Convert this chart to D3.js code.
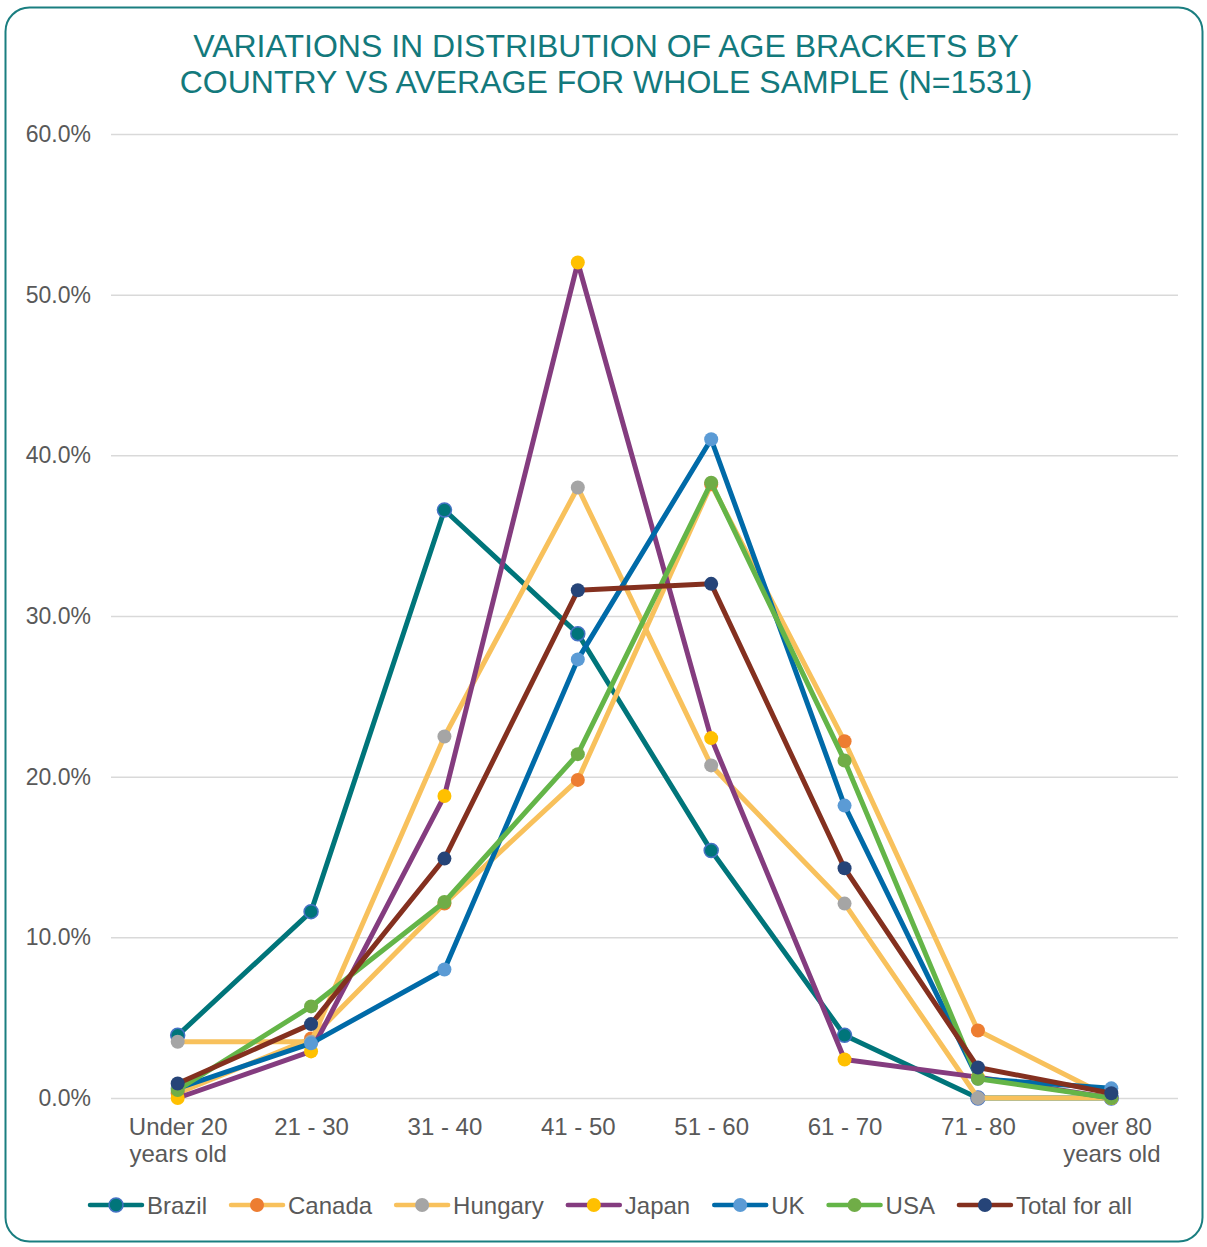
<!DOCTYPE html>
<html>
<head>
<meta charset="utf-8">
<script src="https://cdn.jsdelivr.net/npm/d3@7"></script>
<style>
  html, body { margin: 0; padding: 0; background: #ffffff; }
  svg { display: block; font-family: "Liberation Sans", Arial, sans-serif; }
</style>
</head>
<body>
<svg id="chart" width="1207" height="1247"></svg>
<script>
// Age brackets (x categories), each label split into display lines
const categories = ["Under 20 years old", "21 - 30", "31 - 40", "41 - 50", "51 - 60", "61 - 70", "71 - 80", "over 80 years old"];
const categoryLines = [["Under 20", "years old"], ["21 - 30"], ["31 - 40"], ["41 - 50"], ["51 - 60"], ["61 - 70"], ["71 - 80"], ["over 80", "years old"]];

// Share of respondents per age bracket (%)
const brazil  = [3.9, 11.6, 36.6, 28.9, 15.4, 3.9, 0.0, 0.0];
const canada  = [0.3, 3.7, 12.1, 19.8, 38.2, 22.2, 4.2, 0.0];
const hungary = [3.5, 3.5, 22.5, 38.0, 20.7, 12.1, 0.0, 0.0];
const japan   = [0.0, 2.9, 18.8, 52.0, 22.4, 2.4, 1.3, 0.0];
const uk      = [0.6, 3.4, 8.0, 27.3, 41.0, 18.2, 1.2, 0.6];
const usa     = [0.5, 5.7, 12.2, 21.4, 38.3, 21.0, 1.2, 0.0];
const total   = [0.9, 4.6, 14.9, 31.6, 32.0, 14.3, 1.9, 0.3];

const seriesNames = ["Brazil", "Canada", "Hungary", "Japan", "UK", "USA", "Total for all"];
const seriesValues = [brazil, canada, hungary, japan, uk, usa, total];

const yTicks = [0, 10, 20, 30, 40, 50, 60];

// Styling per series: line colour, marker fill, marker outline
const styles = [
  { line: "#00757A", fill: "#00757A", stroke: "#4472C4" },
  { line: "#F8C15C", fill: "#ED7D31", stroke: "none" },
  { line: "#F8C15C", fill: "#A5A5A5", stroke: "none" },
  { line: "#843C7F", fill: "#FFC000", stroke: "none" },
  { line: "#006AA8", fill: "#5B9BD5", stroke: "none" },
  { line: "#64B548", fill: "#70AD47", stroke: "none" },
  { line: "#84301F", fill: "#264478", stroke: "none" }
];

const svg = d3.select("#chart");
const plot = { left: 111, right: 1178, top: 134, bottom: 1098 };
const textGray = "#595959";
const teal = "#13797C";

// Rounded frame
svg.append("rect")
  .attr("x", 5.5).attr("y", 7.5)
  .attr("width", 1197).attr("height", 1234)
  .attr("rx", 24).attr("ry", 24)
  .attr("fill", "#ffffff")
  .attr("stroke", "#1A7E80").attr("stroke-width", 2);

// Title
const title = svg.append("text")
  .attr("text-anchor", "middle")
  .attr("fill", teal)
  .attr("font-size", 32);
title.append("tspan").attr("x", 606).attr("y", 57).text("VARIATIONS IN DISTRIBUTION OF AGE BRACKETS BY");
title.append("tspan").attr("x", 606).attr("y", 93).text("COUNTRY VS AVERAGE FOR WHOLE SAMPLE (N=1531)");

// Scales
const x = d3.scalePoint().domain(categories).range([plot.left, plot.right]).padding(0.5);
const y = d3.scaleLinear().domain([0, 60]).range([plot.bottom, plot.top]);

// Gridlines + y labels
const yAxis = svg.append("g")
  .attr("transform", `translate(${plot.left},0)`)
  .call(d3.axisLeft(y).tickValues(yTicks)
    .tickSize(-(plot.right - plot.left))
    .tickPadding(20)
    .tickFormat(d => d3.format(".1f")(d) + "%"));
yAxis.select(".domain").remove();
yAxis.selectAll(".tick line").attr("stroke", "#D9D9D9").attr("stroke-width", 1.5);
yAxis.selectAll(".tick text")
  .attr("fill", textGray)
  .attr("font-size", 23)
  .attr("font-family", "Liberation Sans, Arial, sans-serif");

// X labels
const xAxis = svg.append("g")
  .attr("transform", `translate(0,${plot.bottom})`)
  .call(d3.axisBottom(x).tickSize(0).tickFormat(""));
xAxis.select(".domain").remove();
xAxis.selectAll(".tick").each(function(d, i) {
  const t = d3.select(this).append("text")
    .attr("text-anchor", "middle")
    .attr("fill", textGray)
    .attr("font-size", 24)
    .attr("font-family", "Liberation Sans, Arial, sans-serif");
  categoryLines[i].forEach((ln, k) => {
    t.append("tspan").attr("x", 0).attr("y", 37 + k * 27).text(ln);
  });
});

// Lines and markers
const line = d3.line()
  .x((d, i) => x(categories[i]))
  .y(d => y(d));

const seriesG = svg.append("g");
seriesValues.forEach((vals, s) => {
  const g = seriesG.append("g");
  g.append("path")
    .datum(vals)
    .attr("d", line)
    .attr("fill", "none")
    .attr("stroke", styles[s].line)
    .attr("stroke-width", 5)
    .attr("stroke-linejoin", "round")
    .attr("stroke-linecap", "round");
  g.selectAll("circle")
    .data(vals)
    .join("circle")
    .attr("cx", (d, i) => x(categories[i]))
    .attr("cy", d => y(d))
    .attr("r", 7)
    .attr("fill", styles[s].fill)
    .attr("stroke", styles[s].stroke)
    .attr("stroke-width", styles[s].stroke === "none" ? 0 : 1.5);
});

// Legend
const legend = svg.append("g");
const legendY = 1205;
const items = [];
seriesNames.forEach((name, s) => {
  const g = legend.append("g");
  g.append("line")
    .attr("x1", 2).attr("x2", 54)
    .attr("y1", 0).attr("y2", 0)
    .attr("stroke", styles[s].line)
    .attr("stroke-width", 4.5)
    .attr("stroke-linecap", "round");
  g.append("circle")
    .attr("cx", 28).attr("cy", 0).attr("r", 7)
    .attr("fill", styles[s].fill)
    .attr("stroke", styles[s].stroke)
    .attr("stroke-width", styles[s].stroke === "none" ? 0 : 1.5);
  const t = g.append("text")
    .attr("x", 59).attr("y", 8.5)
    .attr("fill", textGray)
    .attr("font-size", 24)
    .text(name);
  const w = 59 + t.node().getComputedTextLength();
  items.push({ g, w });
});
const gap = 22;
const totalW = d3.sum(items, d => d.w) + gap * (items.length - 1);
let lx = 610 - totalW / 2;
items.forEach(it => {
  it.g.attr("transform", `translate(${lx},${legendY})`);
  lx += it.w + gap;
});
</script>
</body>
</html>
